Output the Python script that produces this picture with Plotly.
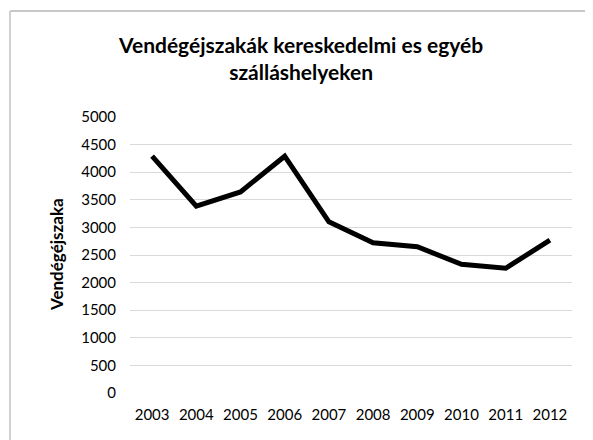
import plotly.graph_objects as go

years = ["2003", "2004", "2005", "2006", "2007", "2008", "2009", "2010", "2011", "2012"]
values = [4290, 3385, 3643, 4290, 3100, 2722, 2650, 2331, 2259, 2770]
y_ticks = list(range(0, 5001, 500))

FONT = "Lato"
W, H = 585, 432
L, R, T, B = 122, 21, 109, 47
PW, PH = W - L - R, H - T - B

bx0 = (2 - L) / PW
by1 = 1 + (T - 3) / PH

fig = go.Figure()
fig.add_trace(go.Scatter(
    x=years, y=values, mode="lines",
    line=dict(color="#000000", width=5, shape="linear"),
    showlegend=False, hoverinfo="x+y",
))

fig.update_layout(
    width=W, height=H,
    paper_bgcolor="white", plot_bgcolor="white",
    margin=dict(l=L, r=R, t=T, b=B),
    font=dict(family=FONT, color="#000000", size=15),
    xaxis=dict(
        type="category", showgrid=False, showline=False, zeroline=False,
        ticks="outside", ticklen=8, tickcolor="rgba(0,0,0,0)",
        tickfont=dict(family=FONT, size=15, color="#000000"),
        range=[-0.5, 9.5],
    ),
    yaxis=dict(
        range=[0, 5000], tickvals=y_ticks, showgrid=True, gridcolor="#d9d9d9",
        gridwidth=1, zeroline=False, showline=False,
        ticks="outside", ticklen=10, tickcolor="rgba(0,0,0,0)",
        tickfont=dict(family=FONT, size=15, color="#000000"),
    ),
    annotations=[
        dict(
            text="<b>Vendégéjszakák kereskedelmi es egyéb<br>szálláshelyeken</b>",
            xref="paper", yref="paper", x=(292 - L) / PW, y=1 + (T - 50) / PH,
            xanchor="center", yanchor="middle", showarrow=False,
            font=dict(family=FONT, size=21, color="#000000"),
        ),
        dict(
            text="<b>Vendégéjszaka</b>",
            xref="paper", yref="paper", x=(48 - L) / PW, y=(255 - 8 - T) / PH,
            xanchor="center", yanchor="middle", showarrow=False, textangle=-90,
            font=dict(family=FONT, size=17, color="#000000"),
        ),
    ],
    shapes=[
        dict(type="line", xref="paper", yref="paper",
             x0=bx0, x1=1 + R / PW, y0=by1, y1=by1,
             line=dict(color="#c8c8c8", width=2), layer="above"),
        dict(type="line", xref="paper", yref="paper",
             x0=bx0, x1=bx0, y0=-B / PH, y1=by1,
             line=dict(color="#d0d0d0", width=2), layer="above"),
    ],
)

fig.write_html("out.html")
